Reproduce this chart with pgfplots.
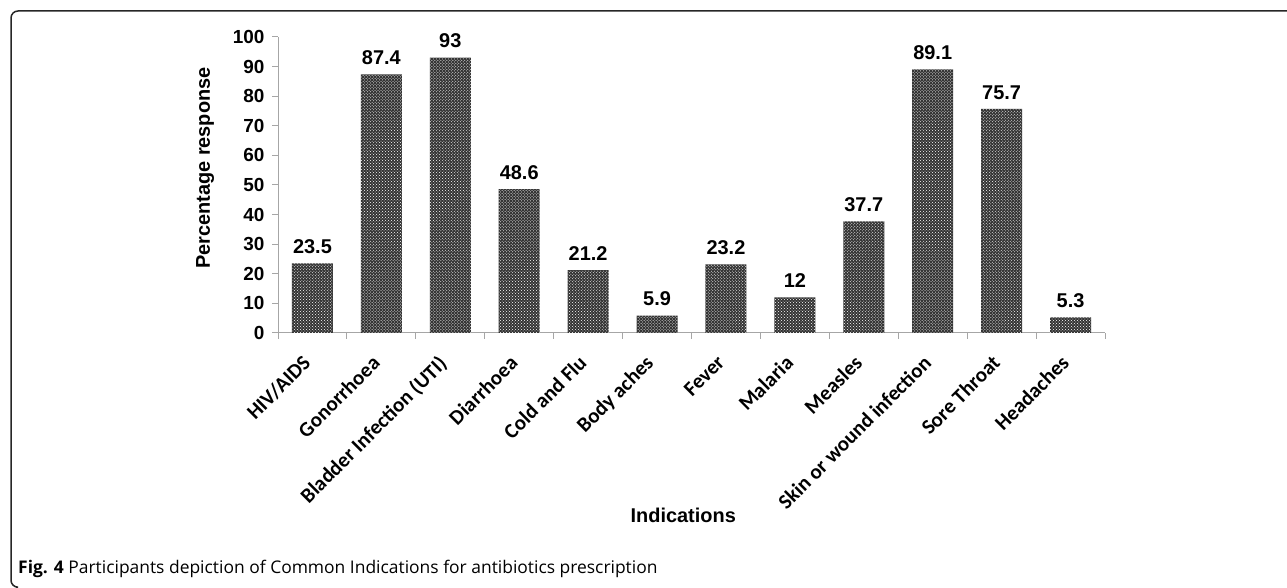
\documentclass[border=0pt]{standalone}
\usepackage{fontspec}
\setmainfont{Liberation Sans}
\newfontfamily\calib{Carlito}
\newfontfamily\capfont{Open Sans}
\usepackage{graphicx}
\usepackage{pgfplots}
\pgfplotsset{compat=1.18}
\usetikzlibrary{patterns}
\newcommand{\rl}[1]{\rotatebox{45}{#1}}
\begin{document}
\begin{tikzpicture}
\useasboundingbox (0,0) rectangle (1287bp,588bp);
\draw[line width=1.5bp, black!85, rounded corners=7bp] (1287bp,577bp) -- (11bp,577bp) -- (11bp,0.8bp) -- (16bp,0.8bp);
\node[anchor=base west, inner sep=0pt] at (18bp,15bp) {\capfont\fontsize{17.5}{17.5}\selectfont\textbf{Fig. 4} Participants depiction of Common Indications for antibiotics prescription};
\begin{axis}[
  at={(278bp,255bp)}, anchor=south west,
  scale only axis, width=827bp, height=296bp,
  xmin=-0.5, xmax=11.5, ymin=0, ymax=100,
  clip=false,
  axis x line*=bottom, axis y line*=left,
  axis line style={draw=gray!70, line width=1bp},
  every tick/.style={draw=gray!70, line width=1bp},
  tick align=outside, major tick length=6bp,
  /pgf/number format/assume math mode=true,
  ytick={0,10,...,100},
  yticklabel style={font=\bfseries\fontsize{19}{19}\selectfont, xshift=-4bp},
  xtick={-0.5,0.5,...,11.5}, xticklabels={},
  extra x ticks={0,1,...,11},
  extra x tick labels={\rl{HIV/AIDS},\rl{Gonorrhoea},\rl{Bladder Infection (UTI)},\rl{Diarrhoea},\rl{Cold and Flu},\rl{Body aches},\rl{Fever},\rl{Malaria},\rl{Measles},\rl{Skin or wound infection},\rl{Sore Throat},\rl{Headaches}},
  extra x tick style={major tick length=0pt, tick label style={anchor=north east, inner sep=0pt, font=\calib\bfseries\fontsize{21}{21}\selectfont, yshift=-21bp, xshift=0bp}},
  ylabel={Percentage response},
  ylabel style={at={(axis description cs:-0.088,0.557)}, anchor=center, font=\bfseries\fontsize{20}{20}\selectfont},
  xlabel={Indications},
  xlabel style={at={(axis description cs:0.49,0)}, anchor=center, yshift=-182bp, font=\bfseries\fontsize{20}{20}\selectfont},
  ybar, bar width=41bp,
  nodes near coords,
  nodes near coords style={font=\bfseries\fontsize{20}{20}\selectfont, anchor=south, yshift=6bp},
]
\addplot[fill=black!80, draw=none, postaction={pattern=crosshatch dots, pattern color=white}] coordinates {
(0,23.5) (1,87.4) (2,93) (3,48.6) (4,21.2) (5,5.9) (6,23.2) (7,12) (8,37.7) (9,89.1) (10,75.7) (11,5.3)};
\end{axis}
\end{tikzpicture}
\end{document}
